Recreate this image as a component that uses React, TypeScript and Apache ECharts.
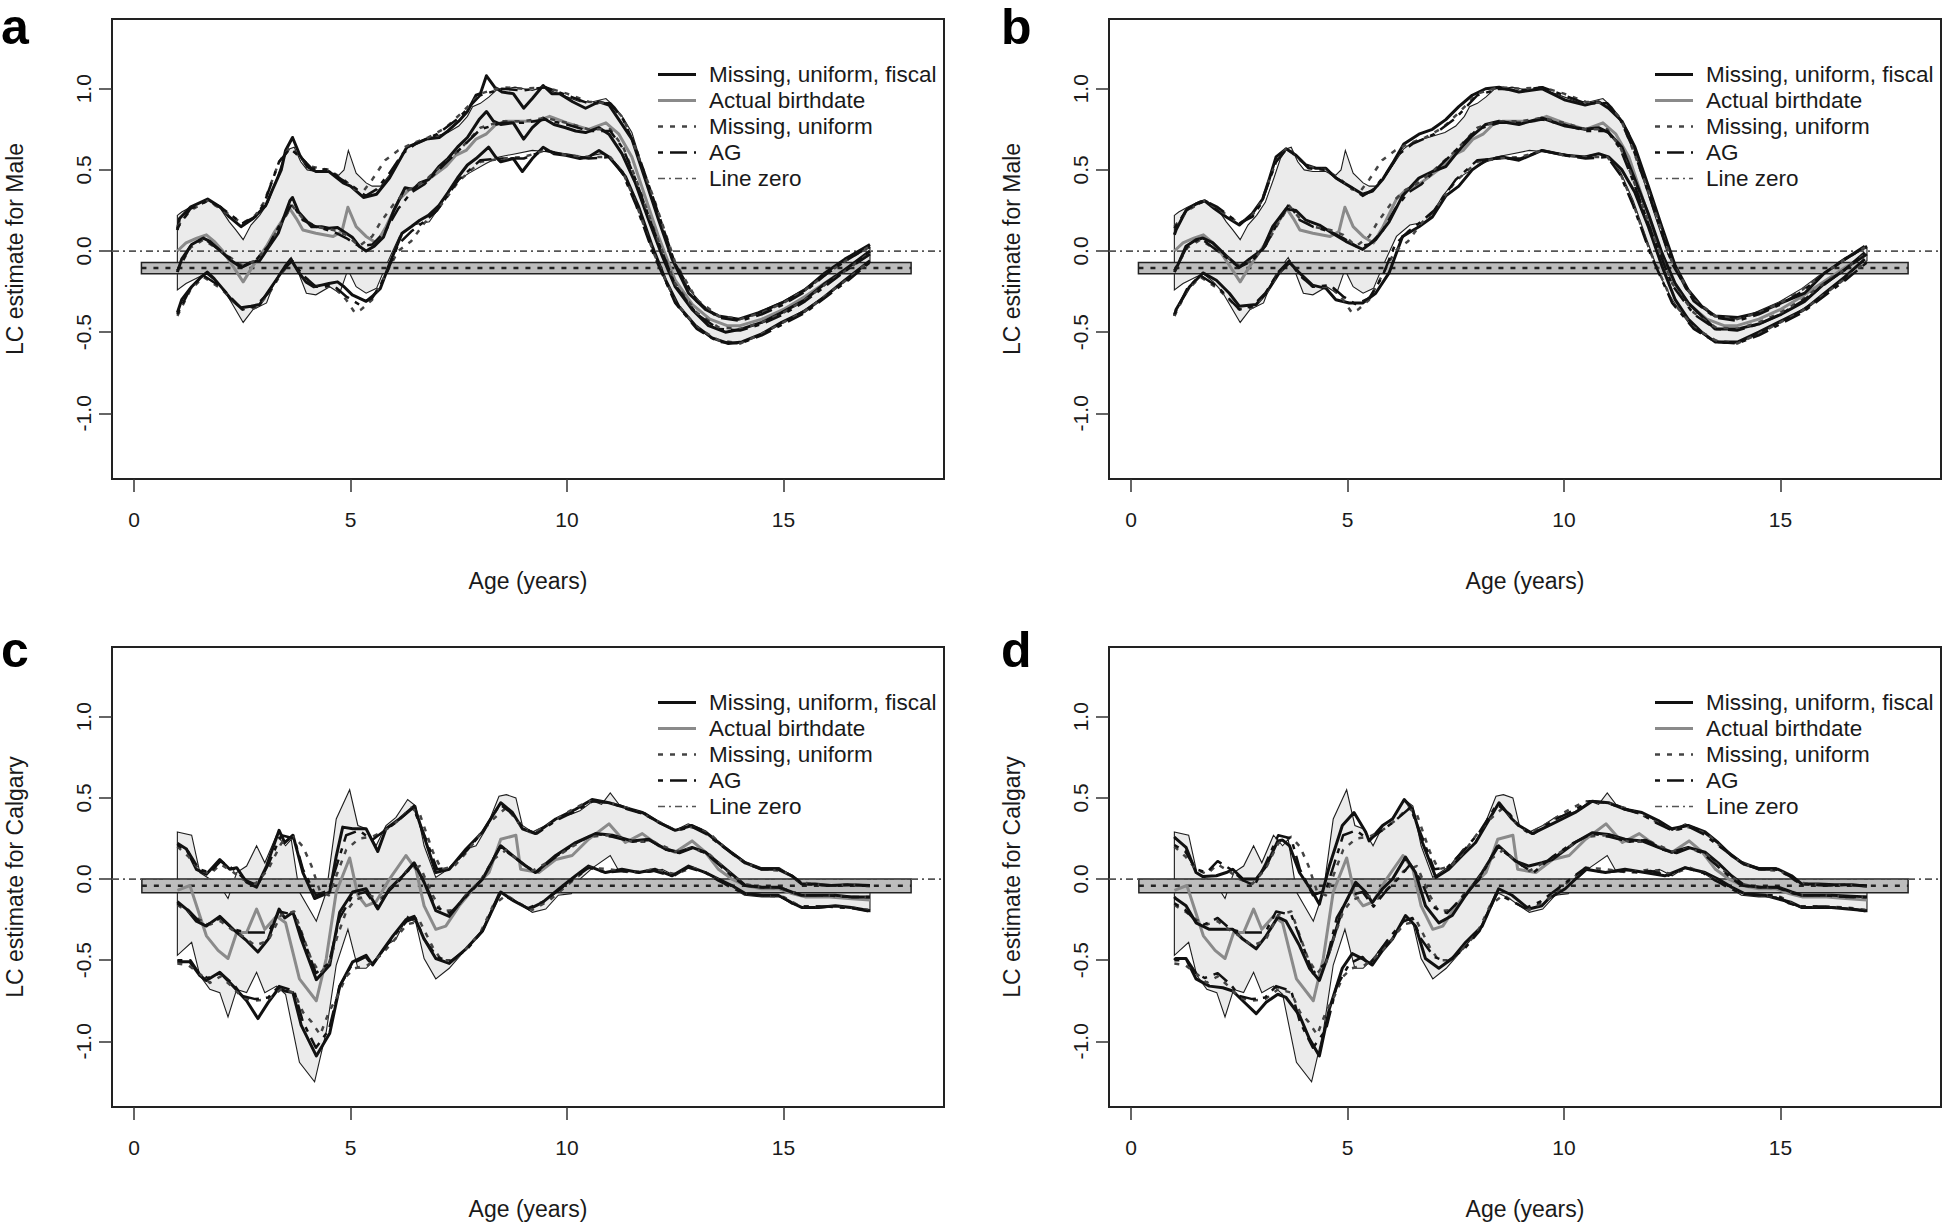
import React, { useEffect, useRef } from "react";
import * as echarts from "echarts";

type P = [number, number];

// ---------------- axes / labels ----------------
const X_TICKS = [0, 5, 10, 15];
const Y_TICKS = [-1, -0.5, 0, 0.5, 1];
const X_MIN = -0.51;
const X_MAX = 18.71;
const Y_MIN = -1.405;
const Y_MAX = 1.43;

const LEGEND_LABELS = ["Missing, uniform, fiscal", "Actual birthdate", "Missing, uniform", "AG", "Line zero"];
const PANEL_LETTERS = ["a", "b", "c", "d"];
const Y_TITLES = ["LC estimate for Male", "LC estimate for Male", "LC estimate for Calgary", "LC estimate for Calgary"];
const X_TITLE = "Age (years)";

// ---------------- Male (panels a, b) ----------------
// Actual birthdate: estimate and shaded CI band
const actMidM: P[] = [[1.0,0.0],[1.2,0.05],[1.45,0.08],[1.67,0.10],[1.85,0.06],[2.05,0.0],[2.25,-0.08],[2.52,-0.19],[2.75,-0.09],[3.06,0.03],[3.25,0.12],[3.45,0.2],[3.6,0.26],[3.75,0.2],[3.9,0.13],[4.2,0.11],[4.6,0.09],[4.8,0.12],[4.94,0.27],[5.13,0.15],[5.36,0.09],[5.6,0.05],[5.82,0.15],[6.13,0.32],[6.36,0.38],[6.59,0.40],[6.9,0.46],[7.2,0.52],[7.43,0.59],[7.67,0.62],[7.9,0.69],[8.13,0.72],[8.36,0.78],[8.59,0.80],[9.0,0.80],[9.3,0.80],[9.6,0.83],[10.0,0.79],[10.5,0.75],[10.9,0.79],[11.2,0.72],[11.5,0.58],[11.8,0.34],[12.1,0.10],[12.5,-0.18],[12.9,-0.33],[13.3,-0.42],[13.7,-0.46],[14.0,-0.46],[14.5,-0.42],[15.0,-0.36],[15.5,-0.28],[16.0,-0.19],[16.5,-0.10],[17.0,-0.02]];
const bandHiM: P[] = [[1.0,0.22],[1.1,0.24],[1.3,0.27],[1.6,0.31],[1.75,0.31],[2.0,0.26],[2.2,0.18],[2.35,0.13],[2.52,0.07],[2.7,0.16],[2.9,0.22],[3.1,0.30],[3.3,0.45],[3.45,0.57],[3.6,0.63],[3.7,0.64],[3.85,0.55],[4.0,0.50],[4.2,0.49],[4.5,0.49],[4.7,0.46],[4.85,0.50],[4.95,0.62],[5.13,0.48],[5.36,0.42],[5.5,0.40],[5.7,0.40],[5.9,0.47],[6.1,0.55],[6.3,0.63],[6.5,0.67],[6.75,0.69],[7.0,0.71],[7.25,0.73],[7.5,0.77],[7.7,0.83],[7.82,0.89],[8.0,0.91],[8.2,0.95],[8.4,1.00],[8.6,1.00],[8.8,1.01],[9.0,1.00],[9.2,0.99],[9.45,1.01],[9.7,0.98],[10.0,0.95],[10.3,0.92],[10.6,0.92],[10.9,0.94],[11.1,0.89],[11.3,0.82],[11.5,0.73],[11.8,0.47],[12.1,0.22],[12.4,-0.02],[12.8,-0.23],[13.2,-0.35],[13.5,-0.40],[14.0,-0.42],[14.4,-0.38],[15.0,-0.31],[15.5,-0.23],[16.0,-0.13],[16.5,-0.04],[17.0,0.02]];
const bandLoM: P[] = [[1.0,-0.24],[1.2,-0.2],[1.5,-0.16],[1.67,-0.14],[1.9,-0.19],[2.1,-0.25],[2.3,-0.34],[2.52,-0.44],[2.75,-0.36],[3.06,-0.32],[3.2,-0.22],[3.36,-0.135],[3.63,-0.04],[3.8,-0.135],[3.98,-0.26],[4.2,-0.27],[4.52,-0.22],[4.75,-0.26],[4.94,-0.115],[5.13,-0.22],[5.36,-0.26],[5.6,-0.23],[5.82,-0.09],[6.13,0.09],[6.44,0.16],[6.82,0.18],[7.0,0.25],[7.2,0.34],[7.51,0.44],[7.74,0.48],[8.13,0.54],[8.43,0.58],[8.82,0.60],[9.2,0.62],[9.6,0.61],[10.0,0.60],[10.4,0.58],[10.8,0.60],[11.0,0.58],[11.3,0.49],[11.6,0.31],[11.9,0.08],[12.2,-0.14],[12.5,-0.30],[12.9,-0.45],[13.3,-0.53],[13.7,-0.57],[14.04,-0.565],[14.5,-0.51],[15.0,-0.44],[15.5,-0.36],[16.0,-0.27],[16.5,-0.17],[17.0,-0.06]];

// Missing, uniform, fiscal - panel a
const fisHiA: P[] = [[1.0,0.13],[1.05,0.2],[1.3,0.27],[1.7,0.32],[2.0,0.27],[2.2,0.21],[2.47,0.15],[2.75,0.2],[3.04,0.28],[3.2,0.38],[3.4,0.5],[3.5,0.62],[3.66,0.70],[3.83,0.59],[4.0,0.52],[4.2,0.49],[4.5,0.49],[4.83,0.42],[5.0,0.4],[5.3,0.33],[5.6,0.35],[5.9,0.45],[6.3,0.64],[6.5,0.66],[6.75,0.69],[7.05,0.70],[7.25,0.74],[7.5,0.80],[7.7,0.86],[7.9,0.96],[8.0,0.97],[8.14,1.08],[8.33,1.01],[8.5,0.98],[8.76,0.97],[9.0,0.88],[9.2,0.94],[9.45,1.02],[9.65,0.97],[9.83,0.97],[10.13,0.92],[10.43,0.88],[10.74,0.92],[10.97,0.90],[11.2,0.81],[11.5,0.69],[11.81,0.44],[12.12,0.19],[12.43,-0.05],[12.81,-0.26],[13.2,-0.36],[13.5,-0.40],[13.97,-0.42],[14.43,-0.38],[14.96,-0.32],[15.5,-0.24],[15.96,-0.135],[16.42,-0.05],[17.0,0.04]];
const fisMidA: P[] = [[1.0,-0.13],[1.1,-0.05],[1.33,0.04],[1.6,0.08],[1.75,0.06],[2.04,-0.01],[2.25,-0.06],[2.47,-0.10],[2.7,-0.07],[2.9,-0.06],[3.1,0.02],[3.33,0.11],[3.45,0.2],[3.6,0.31],[3.66,0.33],[3.8,0.24],[3.97,0.19],[4.1,0.15],[4.33,0.15],[4.5,0.14],[4.7,0.145],[5.04,0.085],[5.2,0.03],[5.36,0.0],[5.55,0.03],[5.76,0.085],[6.0,0.25],[6.26,0.39],[6.45,0.38],[6.6,0.42],[6.8,0.44],[7.04,0.52],[7.25,0.57],[7.47,0.64],[7.7,0.70],[7.97,0.81],[8.14,0.86],[8.3,0.80],[8.47,0.78],[8.76,0.79],[9.0,0.69],[9.2,0.76],[9.45,0.82],[9.7,0.78],[9.97,0.76],[10.2,0.74],[10.43,0.73],[10.74,0.76],[10.97,0.72],[11.27,0.60],[11.58,0.42],[11.89,0.19],[12.2,-0.03],[12.5,-0.22],[12.89,-0.36],[13.27,-0.46],[13.66,-0.50],[14.04,-0.48],[14.5,-0.44],[14.96,-0.38],[15.5,-0.30],[15.96,-0.20],[16.42,-0.115],[17.0,0.0]];
const fisLoA: P[] = [[1.0,-0.38],[1.1,-0.3],[1.33,-0.22],[1.55,-0.16],[1.69,-0.13],[1.85,-0.17],[2.04,-0.23],[2.25,-0.30],[2.47,-0.35],[2.7,-0.34],[2.9,-0.33],[3.1,-0.25],[3.33,-0.16],[3.5,-0.09],[3.62,-0.05],[3.8,-0.13],[3.97,-0.19],[4.15,-0.22],[4.33,-0.21],[4.5,-0.20],[4.7,-0.19],[4.85,-0.22],[5.04,-0.27],[5.2,-0.29],[5.36,-0.31],[5.5,-0.28],[5.69,-0.23],[5.9,-0.08],[6.19,0.11],[6.4,0.15],[6.6,0.19],[6.8,0.22],[7.04,0.28],[7.25,0.36],[7.47,0.45],[7.7,0.53],[7.9,0.57],[8.19,0.64],[8.35,0.58],[8.47,0.55],[8.76,0.57],[8.97,0.49],[9.2,0.57],[9.45,0.64],[9.7,0.60],[9.97,0.59],[10.3,0.57],[10.5,0.58],[10.74,0.62],[10.97,0.58],[11.35,0.46],[11.66,0.27],[11.97,0.03],[12.28,-0.18],[12.58,-0.34],[12.97,-0.46],[13.35,-0.535],[13.73,-0.57],[14.04,-0.56],[14.5,-0.51],[14.96,-0.44],[15.5,-0.37],[15.96,-0.28],[16.42,-0.18],[17.0,-0.06]];

// Missing, uniform, fiscal - panel b
const fisHiB: P[] = [[1.0,0.10],[1.04,0.13],[1.27,0.25],[1.5,0.29],[1.7,0.31],[1.93,0.26],[2.2,0.21],[2.5,0.16],[2.8,0.23],[3.04,0.32],[3.2,0.45],[3.35,0.58],[3.58,0.63],[3.81,0.59],[4.04,0.53],[4.27,0.51],[4.5,0.51],[4.73,0.45],[5.04,0.40],[5.35,0.35],[5.58,0.37],[5.81,0.44],[6.04,0.54],[6.3,0.66],[6.65,0.72],[6.96,0.75],[7.27,0.81],[7.57,0.89],[7.88,0.96],[8.19,1.00],[8.5,1.01],[8.96,0.98],[9.49,1.00],[10.03,0.93],[10.49,0.90],[10.8,0.92],[11.03,0.88],[11.34,0.80],[11.64,0.64],[11.95,0.40],[12.26,0.15],[12.57,-0.09],[12.87,-0.24],[13.18,-0.34],[13.49,-0.40],[14.02,-0.41],[14.5,-0.38],[15.02,-0.32],[15.56,-0.26],[16.02,-0.135],[16.49,-0.05],[16.95,0.03]];
const fisMidB: P[] = [[1.0,-0.13],[1.04,-0.11],[1.27,0.03],[1.5,0.07],[1.66,0.08],[1.89,0.05],[2.2,-0.03],[2.5,-0.10],[2.73,-0.05],[3.04,0.01],[3.27,0.15],[3.58,0.26],[3.81,0.25],[4.04,0.19],[4.35,0.16],[4.65,0.11],[4.96,0.06],[5.35,0.01],[5.65,0.07],[5.96,0.18],[6.27,0.34],[6.65,0.45],[6.96,0.49],[7.27,0.52],[7.57,0.62],[7.88,0.71],[8.19,0.78],[8.5,0.80],[8.96,0.78],[9.49,0.82],[10.03,0.77],[10.49,0.75],[10.8,0.76],[11.03,0.73],[11.34,0.64],[11.64,0.44],[11.95,0.23],[12.26,-0.01],[12.57,-0.20],[12.87,-0.32],[13.18,-0.40],[13.49,-0.48],[14.02,-0.48],[14.5,-0.45],[15.02,-0.39],[15.56,-0.31],[16.02,-0.20],[16.49,-0.115],[16.95,-0.01]];
const fisLoB: P[] = [[1.0,-0.40],[1.04,-0.36],[1.35,-0.22],[1.66,-0.135],[1.97,-0.18],[2.27,-0.26],[2.5,-0.34],[2.89,-0.33],[3.12,-0.26],[3.42,-0.135],[3.66,-0.07],[3.89,-0.135],[4.19,-0.21],[4.5,-0.23],[4.73,-0.30],[5.04,-0.32],[5.35,-0.32],[5.65,-0.26],[5.96,-0.135],[6.27,0.09],[6.65,0.15],[6.96,0.21],[7.27,0.34],[7.57,0.40],[7.88,0.50],[8.19,0.56],[8.57,0.58],[8.96,0.56],[9.49,0.62],[10.03,0.59],[10.49,0.58],[10.8,0.60],[11.03,0.58],[11.34,0.50],[11.64,0.36],[11.95,0.15],[12.26,-0.09],[12.57,-0.30],[12.87,-0.42],[13.18,-0.50],[13.49,-0.56],[14.02,-0.56],[14.5,-0.50],[15.02,-0.43],[15.56,-0.36],[16.02,-0.26],[16.49,-0.16],[16.95,-0.05]];

// Missing, uniform (dotted) - Male
const uniHiM: P[] = [[1.0,0.15],[1.3,0.25],[1.7,0.31],[2.0,0.26],[2.5,0.17],[2.8,0.22],[3.0,0.30],[3.35,0.55],[3.6,0.64],[3.85,0.57],[4.1,0.52],[4.5,0.50],[4.8,0.45],[5.1,0.38],[5.3,0.37],[5.5,0.44],[5.8,0.56],[6.1,0.62],[6.4,0.66],[6.8,0.70],[7.2,0.76],[7.6,0.86],[8.0,0.97],[8.5,1.01],[9.0,1.00],[9.5,1.01],[10.0,0.97],[10.5,0.92],[11.0,0.91],[11.3,0.82],[11.6,0.62],[12.0,0.33],[12.5,-0.07],[13.0,-0.30],[13.5,-0.40],[14.0,-0.42],[14.5,-0.38],[15.0,-0.32],[15.5,-0.24],[16.0,-0.14],[16.5,-0.05],[17.0,0.03]];
const uniMidM: P[] = [[1.0,-0.12],[1.3,0.02],[1.6,0.07],[2.0,0.0],[2.5,-0.09],[2.8,-0.06],[3.1,0.03],[3.4,0.17],[3.65,0.28],[3.9,0.2],[4.2,0.15],[4.6,0.13],[4.9,0.10],[5.2,0.03],[5.5,0.09],[5.7,0.18],[6.0,0.29],[6.3,0.37],[6.7,0.43],[7.0,0.50],[7.5,0.62],[8.0,0.76],[8.5,0.80],[9.0,0.80],[9.5,0.82],[10.0,0.79],[10.5,0.75],[11.0,0.75],[11.3,0.64],[11.6,0.44],[12.0,0.14],[12.5,-0.20],[13.0,-0.38],[13.5,-0.47],[14.0,-0.48],[14.5,-0.44],[15.0,-0.38],[15.5,-0.30],[16.0,-0.20],[16.5,-0.11],[17.0,-0.01]];
const uniLoM: P[] = [[1.0,-0.40],[1.3,-0.24],[1.6,-0.16],[2.0,-0.23],[2.5,-0.36],[2.8,-0.35],[3.1,-0.27],[3.4,-0.14],[3.65,-0.06],[3.9,-0.15],[4.2,-0.22],[4.6,-0.22],[4.9,-0.30],[5.1,-0.38],[5.25,-0.36],[5.5,-0.30],[5.8,-0.15],[6.1,0.0],[6.4,0.06],[6.7,0.17],[7.0,0.25],[7.5,0.43],[8.0,0.55],[8.5,0.57],[9.0,0.58],[9.5,0.62],[10.0,0.59],[10.5,0.58],[11.0,0.58],[11.3,0.48],[11.6,0.29],[12.0,-0.01],[12.5,-0.31],[13.0,-0.47],[13.5,-0.55],[14.0,-0.57],[14.5,-0.51],[15.0,-0.44],[15.5,-0.37],[16.0,-0.27],[16.5,-0.17],[17.0,-0.06]];

// AG (dash-dot) - Male
const agHiM: P[] = [[1.0,0.14],[1.3,0.26],[1.7,0.31],[2.0,0.27],[2.5,0.17],[2.8,0.21],[3.0,0.29],[3.35,0.55],[3.6,0.63],[3.85,0.58],[4.1,0.51],[4.5,0.50],[4.8,0.44],[5.1,0.39],[5.35,0.34],[5.6,0.38],[5.9,0.48],[6.2,0.60],[6.5,0.66],[7.0,0.72],[7.5,0.82],[8.0,0.96],[8.5,1.00],[9.0,0.99],[9.5,1.01],[10.0,0.96],[10.5,0.91],[11.0,0.91],[11.3,0.81],[11.6,0.63],[12.0,0.32],[12.5,-0.08],[13.0,-0.31],[13.5,-0.41],[14.0,-0.43],[14.5,-0.39],[15.0,-0.33],[15.5,-0.25],[16.0,-0.14],[16.5,-0.05],[17.0,0.03]];
const agMidM: P[] = [[1.0,-0.12],[1.3,0.03],[1.6,0.08],[2.0,0.0],[2.5,-0.10],[2.8,-0.06],[3.1,0.03],[3.4,0.18],[3.65,0.29],[3.9,0.19],[4.2,0.15],[4.6,0.12],[4.9,0.08],[5.2,0.03],[5.5,0.04],[5.8,0.12],[6.1,0.26],[6.4,0.36],[6.7,0.41],[7.0,0.49],[7.5,0.62],[8.0,0.75],[8.5,0.79],[9.0,0.79],[9.5,0.81],[10.0,0.78],[10.5,0.74],[11.0,0.74],[11.3,0.63],[11.6,0.43],[12.0,0.13],[12.5,-0.21],[13.0,-0.39],[13.5,-0.48],[14.0,-0.49],[14.5,-0.45],[15.0,-0.39],[15.5,-0.31],[16.0,-0.21],[16.5,-0.11],[17.0,-0.02]];
const agLoM: P[] = [[1.0,-0.39],[1.3,-0.23],[1.6,-0.15],[2.0,-0.22],[2.5,-0.36],[2.8,-0.34],[3.1,-0.26],[3.4,-0.13],[3.65,-0.06],[3.9,-0.15],[4.2,-0.22],[4.6,-0.21],[4.9,-0.28],[5.2,-0.33],[5.5,-0.29],[5.8,-0.16],[6.1,0.04],[6.4,0.12],[6.7,0.18],[7.0,0.25],[7.5,0.44],[8.0,0.56],[8.5,0.57],[9.0,0.57],[9.5,0.62],[10.0,0.59],[10.5,0.57],[11.0,0.58],[11.3,0.47],[11.6,0.28],[12.0,-0.02],[12.5,-0.32],[13.0,-0.48],[13.5,-0.56],[14.0,-0.57],[14.5,-0.52],[15.0,-0.45],[15.5,-0.38],[16.0,-0.28],[16.5,-0.18],[17.0,-0.07]];

// reference bar [x0, top, x1, bottom] and its middle value - Male
const refBarM = [0.17, -0.07, 17.95, -0.14];
const refMidM = -0.105;

// ---------------- Calgary (panels c, d) ----------------
const actMidC: P[] = [[1.0,-0.07],[1.29,-0.04],[1.67,-0.35],[1.94,-0.44],[2.17,-0.49],[2.37,-0.33],[2.6,-0.33],[2.83,-0.185],[3.02,-0.31],[3.29,-0.23],[3.5,-0.27],[3.82,-0.615],[4.21,-0.75],[4.44,-0.49],[4.67,-0.08],[4.98,0.13],[5.17,-0.10],[5.36,-0.165],[5.59,-0.14],[5.9,0.0],[6.28,0.145],[6.51,0.06],[6.7,-0.165],[6.97,-0.31],[7.2,-0.29],[7.51,-0.165],[7.9,-0.04],[8.2,0.04],[8.47,0.245],[8.82,0.27],[8.93,0.06],[9.35,0.04],[9.74,0.12],[10.12,0.145],[10.5,0.245],[10.97,0.34],[11.35,0.225],[11.74,0.28],[12.12,0.205],[12.5,0.165],[12.89,0.235],[13.2,0.165],[13.5,0.06],[13.81,0.0],[14.12,-0.04],[14.5,-0.06],[14.9,-0.06],[15.2,-0.09],[15.5,-0.11],[16.0,-0.11],[16.5,-0.12],[17.0,-0.13]];
const bandHiC: P[] = [[1.0,0.29],[1.33,0.27],[1.52,0.04],[1.75,0.0],[1.98,-0.04],[2.17,-0.12],[2.37,0.04],[2.6,0.08],[2.83,0.205],[3.02,0.10],[3.29,0.27],[3.5,0.205],[3.63,0.245],[3.82,-0.08],[4.21,-0.26],[4.44,-0.08],[4.67,0.37],[4.98,0.55],[5.17,0.33],[5.36,0.31],[5.59,0.205],[5.82,0.33],[6.05,0.38],[6.32,0.49],[6.51,0.45],[6.7,0.205],[6.97,0.01],[7.36,0.08],[7.67,0.185],[7.9,0.205],[8.13,0.31],[8.43,0.51],[8.6,0.52],[8.82,0.50],[8.97,0.33],[9.2,0.29],[9.51,0.33],[9.8,0.38],[10.1,0.40],[10.3,0.42],[10.6,0.48],[10.8,0.46],[11.0,0.53],[11.2,0.46],[11.5,0.43],[11.8,0.41],[12.1,0.36],[12.5,0.30],[12.8,0.34],[13.1,0.31],[13.5,0.23],[13.8,0.17],[14.1,0.11],[14.5,0.07],[14.9,0.07],[15.2,0.02],[15.4,-0.02],[15.8,-0.03],[16.2,-0.04],[16.6,-0.03],[17.0,-0.04]];
const bandLoC: P[] = [[1.0,-0.47],[1.33,-0.39],[1.52,-0.595],[1.75,-0.68],[1.98,-0.70],[2.17,-0.85],[2.37,-0.68],[2.6,-0.70],[2.83,-0.575],[3.02,-0.70],[3.29,-0.66],[3.5,-0.71],[3.82,-1.13],[4.17,-1.25],[4.44,-0.94],[4.67,-0.53],[4.94,-0.31],[5.17,-0.55],[5.36,-0.55],[5.59,-0.49],[5.82,-0.41],[6.05,-0.37],[6.32,-0.23],[6.51,-0.27],[6.7,-0.49],[6.97,-0.615],[7.28,-0.55],[7.67,-0.43],[8.05,-0.31],[8.43,-0.08],[8.74,-0.12],[9.0,-0.17],[9.2,-0.205],[9.51,-0.185],[9.8,-0.10],[10.1,-0.09],[10.3,0.0],[10.6,0.07],[11.0,0.145],[11.2,0.05],[11.5,0.05],[11.9,0.04],[12.2,0.06],[12.5,0.02],[12.8,0.07],[13.2,0.04],[13.5,-0.01],[13.8,-0.05],[14.1,-0.10],[14.5,-0.11],[14.9,-0.11],[15.2,-0.15],[15.5,-0.18],[15.8,-0.18],[16.2,-0.17],[16.6,-0.18],[17.0,-0.20]];

// Missing, uniform, fiscal - panel c
const fisHiC: P[] = [[1.0,0.22],[1.21,0.185],[1.44,0.06],[1.67,0.03],[1.98,0.12],[2.21,0.06],[2.37,0.07],[2.6,-0.02],[2.83,-0.05],[3.06,0.08],[3.35,0.30],[3.48,0.225],[3.67,0.27],[3.9,0.04],[4.17,-0.12],[4.52,-0.08],[4.67,0.14],[4.82,0.32],[5.05,0.31],[5.36,0.31],[5.63,0.17],[5.82,0.31],[6.13,0.37],[6.47,0.45],[6.74,0.23],[6.97,0.04],[7.28,0.06],[7.67,0.185],[8.05,0.29],[8.47,0.47],[8.74,0.41],[8.97,0.31],[9.27,0.28],[9.74,0.37],[10.2,0.43],[10.58,0.49],[10.97,0.47],[11.35,0.44],[11.74,0.41],[12.12,0.35],[12.5,0.30],[12.89,0.33],[13.2,0.29],[13.5,0.225],[13.81,0.16],[14.12,0.10],[14.5,0.06],[14.88,0.06],[15.19,0.02],[15.42,-0.03],[15.73,-0.03],[16.1,-0.04],[16.5,-0.035],[17.0,-0.04]];
const fisMidC: P[] = [[1.0,-0.14],[1.21,-0.185],[1.44,-0.26],[1.67,-0.29],[1.98,-0.23],[2.29,-0.31],[2.6,-0.38],[2.86,-0.45],[3.1,-0.37],[3.35,-0.185],[3.48,-0.24],[3.67,-0.205],[3.86,-0.37],[4.21,-0.62],[4.52,-0.53],[4.75,-0.205],[5.05,-0.08],[5.36,-0.06],[5.63,-0.185],[5.9,-0.06],[6.21,0.02],[6.47,0.10],[6.7,-0.02],[6.97,-0.195],[7.28,-0.23],[7.67,-0.10],[8.05,0.0],[8.47,0.205],[8.74,0.145],[9.05,0.08],[9.27,0.04],[9.74,0.145],[10.2,0.225],[10.66,0.28],[11.05,0.27],[11.5,0.235],[11.89,0.245],[12.27,0.185],[12.58,0.165],[12.89,0.195],[13.2,0.165],[13.5,0.10],[13.81,0.03],[14.12,-0.04],[14.5,-0.05],[14.88,-0.05],[15.19,-0.08],[15.42,-0.10],[15.8,-0.10],[16.2,-0.10],[16.57,-0.11],[17.0,-0.11]];
const fisLoC: P[] = [[1.0,-0.51],[1.29,-0.51],[1.52,-0.595],[1.67,-0.625],[1.98,-0.575],[2.29,-0.66],[2.6,-0.75],[2.86,-0.86],[3.1,-0.76],[3.35,-0.67],[3.48,-0.69],[3.67,-0.70],[3.86,-0.90],[4.21,-1.09],[4.52,-0.95],[4.75,-0.66],[5.05,-0.51],[5.36,-0.47],[5.51,-0.53],[5.74,-0.44],[5.98,-0.35],[6.28,-0.25],[6.47,-0.23],[6.7,-0.37],[6.97,-0.49],[7.28,-0.52],[7.67,-0.43],[8.05,-0.32],[8.47,-0.08],[8.74,-0.13],[9.12,-0.185],[9.43,-0.145],[9.82,-0.06],[10.2,0.02],[10.5,0.08],[10.89,0.04],[11.27,0.06],[11.66,0.04],[12.04,0.06],[12.43,0.02],[12.81,0.08],[13.2,0.04],[13.5,0.0],[13.81,-0.04],[14.12,-0.09],[14.5,-0.10],[14.88,-0.10],[15.19,-0.145],[15.42,-0.175],[15.8,-0.175],[16.2,-0.165],[16.57,-0.175],[17.0,-0.195]];

// Missing, uniform, fiscal - panel d
const fisHiD: P[] = [[1.0,0.26],[1.03,0.25],[1.27,0.195],[1.5,0.04],[1.66,0.015],[1.97,0.02],[2.2,0.04],[2.35,0.06],[2.58,0.0],[2.89,0.0],[3.12,0.08],[3.39,0.235],[3.5,0.24],[3.66,0.205],[3.89,0.04],[4.19,-0.08],[4.35,-0.155],[4.58,0.08],[4.88,0.33],[5.15,0.41],[5.42,0.29],[5.5,0.235],[5.81,0.33],[6.04,0.37],[6.31,0.49],[6.5,0.43],[6.73,0.225],[7.04,0.01],[7.34,0.06],[7.65,0.145],[7.96,0.225],[8.19,0.33],[8.5,0.47],[8.8,0.37],[8.96,0.33],[9.27,0.28],[9.73,0.34],[10.26,0.41],[10.65,0.48],[11.03,0.47],[11.41,0.43],[11.8,0.41],[12.18,0.36],[12.49,0.31],[12.87,0.33],[13.26,0.29],[13.56,0.225],[13.87,0.145],[14.17,0.09],[14.56,0.06],[14.95,0.06],[15.26,0.02],[15.49,-0.03],[15.87,-0.03],[16.25,-0.035],[16.64,-0.035],[17.0,-0.045]];
const fisMidD: P[] = [[1.0,-0.11],[1.03,-0.12],[1.27,-0.165],[1.5,-0.27],[1.81,-0.31],[2.12,-0.31],[2.35,-0.31],[2.58,-0.37],[2.89,-0.43],[3.12,-0.35],[3.39,-0.235],[3.58,-0.26],[3.89,-0.41],[4.12,-0.55],[4.35,-0.625],[4.58,-0.45],[4.88,-0.185],[5.19,-0.02],[5.42,-0.08],[5.57,-0.145],[5.81,-0.06],[6.04,0.0],[6.34,0.135],[6.57,0.04],[6.8,-0.165],[7.11,-0.27],[7.42,-0.225],[7.73,-0.10],[8.11,0.04],[8.49,0.205],[8.88,0.11],[9.19,0.08],[9.49,0.10],[9.73,0.12],[10.26,0.225],[10.65,0.285],[11.03,0.275],[11.41,0.245],[11.8,0.235],[12.18,0.195],[12.49,0.165],[12.87,0.195],[13.26,0.165],[13.56,0.10],[13.87,0.02],[14.17,-0.04],[14.56,-0.05],[14.95,-0.05],[15.26,-0.08],[15.49,-0.10],[16.18,-0.10],[17.0,-0.11]];
const fisLoD: P[] = [[1.0,-0.50],[1.03,-0.49],[1.27,-0.49],[1.5,-0.615],[1.81,-0.66],[2.12,-0.67],[2.35,-0.69],[2.58,-0.75],[2.89,-0.83],[3.12,-0.76],[3.39,-0.71],[3.58,-0.73],[3.89,-0.84],[4.12,-0.985],[4.35,-1.09],[4.58,-0.80],[4.88,-0.55],[5.11,-0.46],[5.34,-0.49],[5.57,-0.53],[5.81,-0.44],[6.04,-0.37],[6.34,-0.225],[6.57,-0.29],[6.8,-0.49],[7.11,-0.55],[7.42,-0.49],[7.73,-0.39],[8.11,-0.29],[8.49,-0.06],[8.8,-0.10],[9.19,-0.185],[9.49,-0.165],[9.65,-0.12],[10.03,-0.06],[10.5,0.06],[10.96,0.04],[11.41,0.06],[11.87,0.04],[12.33,0.02],[12.8,0.07],[13.26,0.04],[13.56,0.0],[13.87,-0.05],[14.17,-0.09],[14.64,-0.10],[15.26,-0.145],[15.49,-0.175],[16.18,-0.175],[17.0,-0.195]];

// Missing, uniform (dotted) - Calgary
const uniHiC: P[] = [[1.0,0.2],[1.25,0.14],[1.5,0.06],[1.75,0.03],[2.0,0.09],[2.25,0.05],[2.5,0.0],[2.8,-0.03],[3.1,0.06],[3.4,0.22],[3.7,0.26],[3.9,0.20],[4.1,0.08],[4.3,-0.08],[4.5,-0.10],[4.7,0.04],[4.9,0.18],[5.2,0.25],[5.5,0.26],[5.8,0.30],[6.1,0.36],[6.4,0.44],[6.6,0.40],[6.9,0.17],[7.1,0.06],[7.4,0.08],[7.7,0.17],[8.0,0.28],[8.3,0.37],[8.6,0.44],[8.9,0.34],[9.2,0.28],[9.6,0.34],[10.0,0.41],[10.5,0.48],[11.0,0.47],[11.5,0.43],[12.0,0.37],[12.5,0.30],[12.9,0.32],[13.3,0.28],[13.7,0.18],[14.1,0.10],[14.5,0.06],[15.0,0.05],[15.4,-0.02],[16.0,-0.04],[16.5,-0.035],[17.0,-0.045]];
const uniMidC: P[] = [[1.0,-0.16],[1.25,-0.2],[1.5,-0.25],[1.75,-0.28],[2.0,-0.26],[2.25,-0.31],[2.5,-0.35],[2.8,-0.41],[3.1,-0.38],[3.4,-0.22],[3.7,-0.2],[3.9,-0.35],[4.1,-0.5],[4.3,-0.58],[4.5,-0.52],[4.7,-0.35],[4.9,-0.2],[5.1,-0.13],[5.4,-0.1],[5.7,-0.12],[6.0,-0.04],[6.3,0.05],[6.6,0.08],[6.9,-0.1],[7.1,-0.2],[7.4,-0.19],[7.7,-0.09],[8.0,-0.01],[8.3,0.12],[8.6,0.18],[8.9,0.11],[9.2,0.05],[9.6,0.11],[10.0,0.18],[10.5,0.26],[11.0,0.27],[11.5,0.23],[12.0,0.23],[12.5,0.17],[12.9,0.19],[13.3,0.15],[13.7,0.05],[14.1,-0.03],[14.5,-0.05],[15.0,-0.06],[15.4,-0.1],[16.0,-0.1],[16.5,-0.11],[17.0,-0.115]];
const uniLoC: P[] = [[1.0,-0.52],[1.25,-0.53],[1.5,-0.58],[1.75,-0.64],[2.0,-0.6],[2.25,-0.66],[2.5,-0.73],[2.8,-0.75],[3.1,-0.74],[3.4,-0.68],[3.7,-0.70],[3.9,-0.82],[4.1,-0.88],[4.3,-0.96],[4.5,-0.82],[4.7,-0.72],[4.9,-0.60],[5.1,-0.55],[5.4,-0.53],[5.7,-0.47],[6.0,-0.38],[6.3,-0.28],[6.6,-0.26],[6.9,-0.42],[7.1,-0.5],[7.4,-0.5],[7.7,-0.42],[8.0,-0.33],[8.3,-0.16],[8.6,-0.1],[8.9,-0.15],[9.2,-0.19],[9.6,-0.13],[10.0,-0.04],[10.5,0.07],[11.0,0.06],[11.5,0.04],[12.0,0.06],[12.5,0.03],[12.9,0.07],[13.3,0.03],[13.7,-0.04],[14.1,-0.09],[14.5,-0.1],[15.0,-0.11],[15.4,-0.17],[16.0,-0.17],[16.5,-0.175],[17.0,-0.19]];

// AG (dash-dot) - Calgary
const agHiC: P[] = [[1.0,0.21],[1.25,0.17],[1.5,0.06],[1.75,0.04],[2.0,0.11],[2.3,0.06],[2.6,-0.01],[2.85,-0.04],[3.1,0.09],[3.4,0.27],[3.7,0.25],[3.9,0.06],[4.2,-0.1],[4.5,-0.07],[4.7,0.1],[4.9,0.27],[5.2,0.30],[5.5,0.24],[5.8,0.30],[6.1,0.36],[6.45,0.44],[6.75,0.24],[7.0,0.06],[7.3,0.07],[7.7,0.18],[8.05,0.29],[8.45,0.46],[8.75,0.40],[9.0,0.31],[9.3,0.28],[9.75,0.36],[10.2,0.42],[10.6,0.48],[11.0,0.47],[11.4,0.43],[11.8,0.40],[12.1,0.35],[12.5,0.30],[12.9,0.32],[13.2,0.28],[13.5,0.22],[13.8,0.16],[14.1,0.10],[14.5,0.06],[14.9,0.06],[15.2,0.02],[15.45,-0.03],[16.0,-0.04],[16.5,-0.035],[17.0,-0.04]];
const agMidC: P[] = [[1.0,-0.15],[1.25,-0.19],[1.5,-0.26],[1.7,-0.28],[2.0,-0.24],[2.3,-0.31],[2.6,-0.33],[2.85,-0.33],[3.1,-0.33],[3.35,-0.2],[3.7,-0.22],[3.9,-0.36],[4.2,-0.58],[4.5,-0.52],[4.75,-0.24],[5.05,-0.1],[5.35,-0.08],[5.6,-0.17],[5.9,-0.07],[6.2,0.01],[6.45,0.09],[6.7,-0.01],[6.95,-0.17],[7.3,-0.21],[7.7,-0.1],[8.05,0.0],[8.45,0.2],[8.75,0.14],[9.05,0.08],[9.3,0.04],[9.75,0.14],[10.2,0.22],[10.65,0.28],[11.05,0.26],[11.5,0.23],[11.9,0.24],[12.3,0.18],[12.6,0.16],[12.9,0.19],[13.2,0.16],[13.5,0.09],[13.8,0.02],[14.1,-0.04],[14.5,-0.05],[14.9,-0.05],[15.2,-0.08],[15.45,-0.10],[16.0,-0.10],[16.5,-0.11],[17.0,-0.11]];
const agLoC: P[] = [[1.0,-0.50],[1.3,-0.50],[1.5,-0.58],[1.7,-0.61],[2.0,-0.58],[2.3,-0.65],[2.5,-0.72],[2.8,-0.74],[3.1,-0.73],[3.35,-0.66],[3.7,-0.69],[3.9,-0.88],[4.2,-1.04],[4.5,-0.93],[4.75,-0.66],[5.05,-0.52],[5.35,-0.48],[5.5,-0.53],[5.75,-0.44],[6.0,-0.35],[6.3,-0.26],[6.5,-0.24],[6.7,-0.37],[7.0,-0.48],[7.3,-0.51],[7.7,-0.43],[8.05,-0.32],[8.45,-0.09],[8.75,-0.13],[9.1,-0.18],[9.45,-0.14],[9.8,-0.07],[10.2,0.01],[10.5,0.07],[10.9,0.04],[11.3,0.05],[11.7,0.04],[12.0,0.05],[12.4,0.02],[12.8,0.07],[13.2,0.04],[13.5,-0.01],[13.8,-0.05],[14.1,-0.09],[14.5,-0.10],[14.9,-0.10],[15.2,-0.15],[15.45,-0.17],[16.0,-0.17],[16.6,-0.18],[17.0,-0.20]];

const refBarC = [0.18, 0.0, 17.95, -0.085];
const refMidC = -0.042;

// ---------------- styling ----------------
const FONT = "'Liberation Sans', Arial, Helvetica, sans-serif";
const GRID_LEFT = [112, 1109, 112, 1109];
const GRID_TOP = [19, 19, 647, 647];
const GRID_W = 832;
const GRID_H = 460;

const C_BLACK = "#111111";
const C_GRAY = "#8a8a8a";
const C_DOT = "#444444";
const C_ZERO = "#555555";
const DASH_DOT: number[] = [5, 7];
const DASH_AG: number[] = [5, 7, 17, 7];
const DASH_ZERO: number[] = [7, 4, 2, 4];

interface Panel {
  fisHi: P[]; fisMid: P[]; fisLo: P[];
  act: P[]; bandHi: P[]; bandLo: P[];
  uniHi: P[]; uniMid: P[]; uniLo: P[];
  agHi: P[]; agMid: P[]; agLo: P[];
  bar: number[]; barMid: number;
}

const PANELS: Panel[] = [
  { fisHi: fisHiA, fisMid: fisMidA, fisLo: fisLoA, act: actMidM, bandHi: bandHiM, bandLo: bandLoM, uniHi: uniHiM, uniMid: uniMidM, uniLo: uniLoM, agHi: agHiM, agMid: agMidM, agLo: agLoM, bar: refBarM, barMid: refMidM },
  { fisHi: fisHiB, fisMid: fisMidB, fisLo: fisLoB, act: actMidM, bandHi: bandHiM, bandLo: bandLoM, uniHi: uniHiM, uniMid: uniMidM, uniLo: uniLoM, agHi: agHiM, agMid: agMidM, agLo: agLoM, bar: refBarM, barMid: refMidM },
  { fisHi: fisHiC, fisMid: fisMidC, fisLo: fisLoC, act: actMidC, bandHi: bandHiC, bandLo: bandLoC, uniHi: uniHiC, uniMid: uniMidC, uniLo: uniLoC, agHi: agHiC, agMid: agMidC, agLo: agLoC, bar: refBarC, barMid: refMidC },
  { fisHi: fisHiD, fisMid: fisMidD, fisLo: fisLoD, act: actMidC, bandHi: bandHiC, bandLo: bandLoC, uniHi: uniHiC, uniMid: uniMidC, uniLo: uniLoC, agHi: agHiC, agMid: agMidC, agLo: agLoC, bar: refBarC, barMid: refMidC },
];

function lineSeries(i: number, name: string, data: P[], color: string, width: number, dash: any) {
  return {
    type: "line",
    name,
    xAxisIndex: i,
    yAxisIndex: i,
    data,
    symbol: "none",
    showSymbol: false,
    silent: true,
    z: 3,
    lineStyle: { color, width, type: dash, cap: "butt", join: "round" },
    emphasis: { disabled: true },
  };
}

function buildOption() {
  const grid: any[] = [];
  const xAxis: any[] = [];
  const yAxis: any[] = [];
  const series: any[] = [];
  const graphic: any[] = [];

  PANELS.forEach((p, i) => {
    grid.push({ left: GRID_LEFT[i], top: GRID_TOP[i], width: GRID_W, height: GRID_H, show: true, borderColor: "#222", borderWidth: 2, backgroundColor: "transparent" });
    xAxis.push({
      type: "value", gridIndex: i, min: X_MIN, max: X_MAX,
      axisLine: { show: false, onZero: false }, splitLine: { show: false },
      axisTick: { show: true, customValues: X_TICKS, length: 13, lineStyle: { color: "#333", width: 1.5 } },
      axisLabel: { customValues: X_TICKS, fontSize: 21, color: "#1a1a1a", fontFamily: FONT, margin: 30, formatter: (v: number) => String(v) },
      name: X_TITLE, nameLocation: "middle", nameGap: 90,
      nameTextStyle: { fontSize: 23, color: "#1a1a1a", fontFamily: FONT },
    });
    yAxis.push({
      type: "value", gridIndex: i, min: Y_MIN, max: Y_MAX,
      axisLine: { show: false, onZero: false }, splitLine: { show: false },
      axisTick: { show: true, customValues: Y_TICKS, length: 13, lineStyle: { color: "#333", width: 1.5 } },
      axisLabel: { customValues: Y_TICKS, rotate: 90, fontSize: 21, color: "#1a1a1a", fontFamily: FONT, margin: 18, formatter: (v: number) => v.toFixed(1) },
      name: Y_TITLES[i], nameLocation: "middle", nameGap: 86, nameRotate: 90,
      nameTextStyle: { fontSize: 23, color: "#1a1a1a", fontFamily: FONT },
    });

    // shaded CI band of the actual-birthdate estimate
    series.push({
      type: "custom", name: "band", xAxisIndex: i, yAxisIndex: i, silent: true, z: 1,
      data: p.bandHi,
      renderItem: (params: any, api: any) => {
        if (params.dataIndex !== 0) return null;
        const pts = p.bandHi.map((q) => api.coord(q)).concat(p.bandLo.slice().reverse().map((q) => api.coord(q)));
        return { type: "polygon", shape: { points: pts }, style: { fill: "#ebebeb", stroke: "#1e1e1e", lineWidth: 1.1 } };
      },
    });
    // reference bar
    series.push({
      type: "custom", name: "bar", xAxisIndex: i, yAxisIndex: i, silent: true, z: 2,
      data: [p.bar],
      encode: { x: [0, 2], y: [1, 3] },
      renderItem: (_params: any, api: any) => {
        const a = api.coord([api.value(0), api.value(1)]);
        const b = api.coord([api.value(2), api.value(3)]);
        return { type: "rect", shape: { x: a[0], y: a[1], width: b[0] - a[0], height: b[1] - a[1] }, style: { fill: "#bdbdbd", stroke: "#222", lineWidth: 1.5 } };
      },
    });
    series.push({ ...lineSeries(i, "bar mid", [[p.bar[0], p.barMid], [p.bar[2], p.barMid]], "#222", 2.5, DASH_DOT), z: 2 });
    // zero line
    series.push({ ...lineSeries(i, LEGEND_LABELS[4], [[X_MIN, 0], [X_MAX, 0]], C_ZERO, 1.7, DASH_ZERO), z: 2 });
    // actual birthdate
    series.push(lineSeries(i, LEGEND_LABELS[1], p.act, C_GRAY, 3, "solid"));
    // fiscal
    [p.fisHi, p.fisMid, p.fisLo].forEach((d) => series.push(lineSeries(i, LEGEND_LABELS[0], d, C_BLACK, 3, "solid")));
    // missing uniform
    [p.uniHi, p.uniMid, p.uniLo].forEach((d) => series.push(lineSeries(i, LEGEND_LABELS[2], d, C_DOT, 2.5, DASH_DOT)));
    // AG
    [p.agHi, p.agMid, p.agLo].forEach((d) => series.push(lineSeries(i, LEGEND_LABELS[3], d, C_BLACK, 2.5, DASH_AG)));

    // legend (R style, inside the plot)
    const L = GRID_LEFT[i];
    const T = GRID_TOP[i];
    const legendStyles = [
      { stroke: C_BLACK, lineWidth: 3, lineDash: null },
      { stroke: C_GRAY, lineWidth: 3, lineDash: null },
      { stroke: C_DOT, lineWidth: 2.5, lineDash: DASH_DOT },
      { stroke: C_BLACK, lineWidth: 2.5, lineDash: DASH_AG },
      { stroke: C_ZERO, lineWidth: 1.7, lineDash: DASH_ZERO },
    ];
    LEGEND_LABELS.forEach((lab, k) => {
      const y = T + 55.5 + 26.0 * k;
      const st: any = { stroke: legendStyles[k].stroke, lineWidth: legendStyles[k].lineWidth };
      if (legendStyles[k].lineDash) st.lineDash = legendStyles[k].lineDash;
      graphic.push({ type: "line", silent: true, z: 10, shape: { x1: L + 546, y1: y, x2: L + 584, y2: y }, style: st });
      graphic.push({ type: "text", silent: true, z: 10, x: L + 597, y, style: { text: lab, fontSize: 22.5, fontFamily: FONT, fill: "#1a1a1a", verticalAlign: "middle", align: "left" } });
    });
    // panel letter
    graphic.push({
      type: "text", silent: true, z: 10,
      x: i % 2 === 0 ? 1 : 1001, y: i < 2 ? 27 : 650,
      style: { text: PANEL_LETTERS[i], fontSize: 50, fontWeight: "bold", fontFamily: FONT, fill: "#000", verticalAlign: "middle", align: "left" },
    });
  });

  return { animation: false, backgroundColor: "#ffffff", grid, xAxis, yAxis, series, graphic };
}

export default function App() {
  const ref = useRef<HTMLDivElement>(null);
  useEffect(() => {
    if (!ref.current) return;
    const chart = echarts.init(ref.current, null, { renderer: "svg" });
    chart.setOption(buildOption() as any);
    return () => chart.dispose();
  }, []);
  return <div ref={ref} style={{ position: "absolute", left: 0, top: 0, width: 1943, height: 1226, background: "#fff" }} />;
}
